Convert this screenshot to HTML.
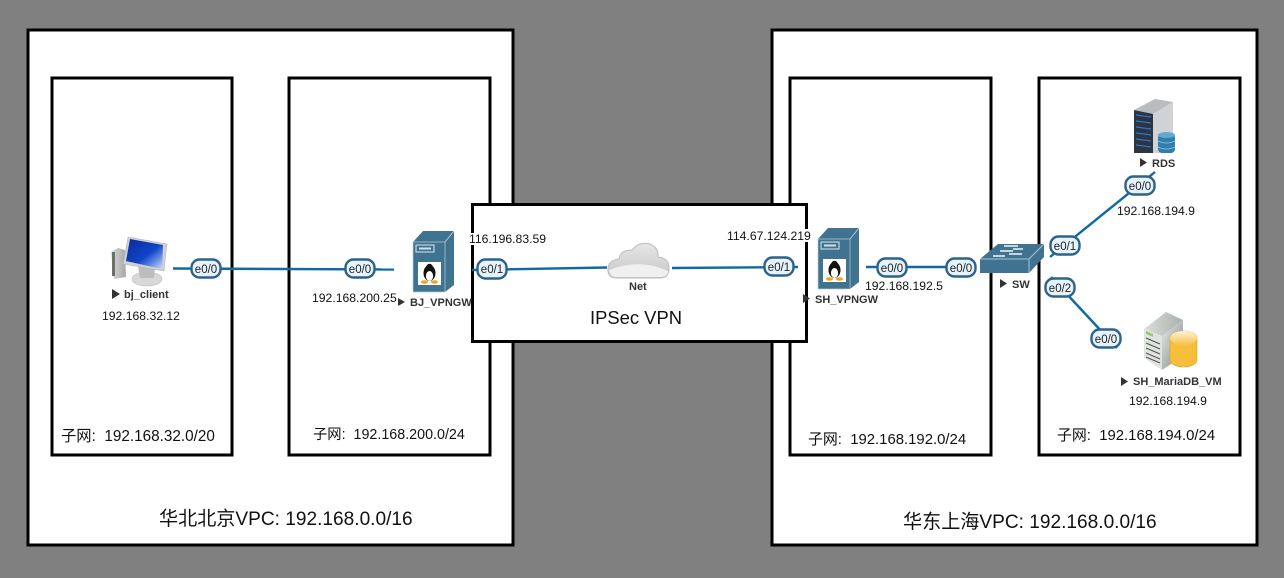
<!DOCTYPE html>
<html><head><meta charset="utf-8">
<style>
html,body{margin:0;padding:0;background:#808080;width:1284px;height:578px;overflow:hidden}
svg{display:block}
text{font-family:"Liberation Sans","Noto Sans CJK SC",sans-serif;fill:#111}
.ip{font-size:12.2px}
.vpc{font-size:19.1px}
.n{font-size:11px;font-weight:bold;fill:#333}
.p{font-size:11.5px;text-anchor:middle;fill:#222}
.pr{fill:#e6f3fc;stroke:#2e6288;stroke-width:2.4}
.box{fill:#fff;stroke:#000;stroke-width:3}
.l{stroke:#0f69a6;stroke-width:2.4;fill:none}
</style></head><body>
<svg width="1284" height="578" viewBox="0 0 1284 578" xmlns="http://www.w3.org/2000/svg">
<defs>
<linearGradient id="cl" x1="0" y1="0" x2="0" y2="1"><stop offset="0" stop-color="#e6e6e6"/><stop offset=".65" stop-color="#d2d2d2"/><stop offset="1" stop-color="#c4c4c4"/></linearGradient>
<linearGradient id="gs" x1="0" y1="0" x2="1" y2="1"><stop offset="0" stop-color="#e6e8e6"/><stop offset="1" stop-color="#7f8a85"/></linearGradient>
<linearGradient id="gt" x1="0" y1="0" x2="1" y2="0"><stop offset="0" stop-color="#dcdedc"/><stop offset="1" stop-color="#a9b0ac"/></linearGradient>
<linearGradient id="gm" x1="0" y1="0" x2="1" y2="0"><stop offset="0" stop-color="#d8d8d8"/><stop offset="1" stop-color="#a8a8a8"/></linearGradient>
<linearGradient id="bl" x1="0" y1="0" x2="1" y2="1"><stop offset="0" stop-color="#0a2a9c"/><stop offset=".55" stop-color="#1144c8"/><stop offset=".75" stop-color="#5c86e0"/><stop offset="1" stop-color="#d4e2fa"/></linearGradient>
<linearGradient id="yl" x1="0" y1="0" x2="0" y2="1"><stop offset="0" stop-color="#fdf3d6"/><stop offset="1" stop-color="#f7c24a"/></linearGradient>
<g id="srv">
<polygon points="0,11 10,0 41,0 32,11" fill="#3f7390"/>
<polygon points="32,11 41,0 41,54 32,61" fill="#3f7390"/>
<line x1="32" y1="11" x2="41" y2="0" stroke="#cfdfe8" stroke-width=".7"/>
<rect x="0" y="11" width="32" height="50" fill="#3f7390" stroke="#b9cfdc" stroke-width=".7"/>
<rect x="3" y="14" width="18" height="7" fill="#3f7390" stroke="#dce8ee" stroke-width="1"/>
<rect x="6" y="16.500" width="12" height="2" fill="#cfe0ea"/>
<rect x="5" y="31" width="23" height="23" fill="#fff"/>
<ellipse cx="16.500" cy="42" rx="6" ry="8" fill="#111"/>
<ellipse cx="16.500" cy="45" rx="3.600" ry="5" fill="#fff"/>
<circle cx="16.500" cy="36" r="3.200" fill="#111"/>
<ellipse cx="11.500" cy="51" rx="3.500" ry="1.700" fill="#e8a818"/>
<ellipse cx="21.500" cy="51" rx="3.500" ry="1.700" fill="#e8a818"/>
</g>
</defs>
<rect width="1284" height="578" fill="#808080"/>

<rect class="box" x="28" y="30" width="485" height="515"/>
<rect class="box" x="772" y="30" width="485" height="515"/>
<rect class="box" x="52" y="78" width="180" height="377"/>
<rect class="box" x="289" y="78" width="201" height="377"/>
<rect class="box" x="790" y="78" width="201" height="377"/>
<rect class="box" x="1039" y="78" width="201" height="377"/>
<rect class="box" x="472.500" y="204.500" width="334" height="137"/>

<text font-size="15.300" x="61" y="441">子网:&#160; 192.168.32.0/20</text>
<text font-size="14.300" x="313" y="439">子网:&#160; 192.168.200.0/24</text>
<text font-size="14.900" x="808" y="444">子网:&#160; 192.168.192.0/24</text>
<text font-size="14.900" x="1057" y="440">子网:&#160; 192.168.194.0/24</text>
<text class="vpc" x="159" y="525">华北北京VPC: 192.168.0.0/16</text>
<text class="vpc" x="903" y="528">华东上海VPC: 192.168.0.0/16</text>
<text x="590" y="324" font-size="18.400">IPSec VPN</text>

<!-- connectors -->
<path class="l" d="M173 268.500L394 269.500"/>
<path class="l" d="M472 270L607 267.500"/>
<path class="l" d="M672 268L798 267"/>
<path class="l" d="M866 267L975 267"/>
<path class="l" d="M1050 257L1155 172"/>
<path class="l" d="M1051 277L1117 348"/>

<!-- client PC -->
<g>
<polygon points="111,252 118,248 125,250 126,277 114,279" fill="url(#gm)"/>
<rect x="112" y="252" width="3" height="24" fill="#6a7268"/>
<ellipse cx="147" cy="279" rx="15" ry="7" fill="#d8d8d8" stroke="#c0c0c0" stroke-width=".6"/>
<polygon points="138,266 155,268 154,278 140,278" fill="#bdbdbd"/>
<polygon points="128,237 167,244 164,271 123,264" fill="#d0d0d0" stroke="#b0b0b0" stroke-width=".5"/>
<polygon points="130,239 163,245 162,269 126,261" fill="url(#bl)"/>
</g>
<polygon points="112,289 112,299 120,294" fill="#333"/>
<text class="n" x="124" y="298">bj_client</text>
<text class="ip" x="102" y="320">192.168.32.12</text>

<use href="#srv" x="413" y="231"/>
<text class="ip" x="312" y="302">192.168.200.25</text>
<polygon points="398,298 398,306 405,302" fill="#333"/>
<text class="n" x="410" y="306">BJ_VPNGW</text>

<rect x="469" y="233" width="77" height="12" fill="#fff"/>
<text class="ip" x="469" y="243">116.196.83.59</text>
<rect x="727" y="229" width="84" height="13" fill="#fff"/>
<text class="ip" x="727" y="240">114.67.124.219</text>

<!-- cloud -->
<path d="M616 278Q607 278 608 268Q609 260 619 259Q620 250 632 250Q639 241 650 244Q659 248 658 257Q669 258 669 268Q669 278 660 278Z" fill="url(#cl)" stroke="#bdbdbd"/>
<path d="M609 270Q640 258 668 271Q668 277 660 277L616 277Q610 277 609 270Z" fill="#f0f0f0"/>
<text class="n" x="629" y="290">Net</text>

<use href="#srv" x="818" y="228"/>
<polygon points="803,294 803,303 810,298.500" fill="#333"/>
<text class="n" x="815" y="303">SH_VPNGW</text>
<text class="ip" x="865" y="290">192.168.192.5</text>

<!-- switch -->
<polygon points="980,259 998,244 1044,244 1029,259" fill="#3f7390"/>
<polygon points="1029,259 1044,244 1044,257 1029,273" fill="#3f7390"/>
<rect x="980" y="259" width="49" height="14" fill="#3f7390"/>
<path d="M980 259H1029L1044 244M1029 259V273" stroke="#a9c4d2" stroke-width="1" fill="none"/>
<path d="M1018 246h-14M1023 249h-10M1000 251h13M1022 254h-13M993 256h12" stroke="#f2f6f8" stroke-width="1.400"/>
<polygon points="1000,279 1000,288 1007,283.500" fill="#333"/>
<text class="n" x="1012" y="288">SW</text>

<!-- RDS -->
<polygon points="1134,110 1155,99 1173,102 1153,114" fill="#b9bbbd"/>
<polygon points="1153,114 1173,102 1173,135 1160,153 1153,153" fill="#d0d2d4"/>
<polygon points="1134,110 1153,114 1153,153 1134,153" fill="#2c3542"/>
<path d="M1136 115l15 2M1136 121l15 2M1136 127l15 2M1136 133l15 2M1136 139l15 2M1136 145l15 2" stroke="#2d78d0" stroke-width="1.200"/>
<rect x="1158" y="134" width="17" height="19" rx="4" fill="#2f7eac"/>
<ellipse cx="1166.500" cy="135" rx="8.500" ry="3" fill="#5fa9d2"/>
<path d="M1158 141q8.500 4 17 0M1158 147q8.500 4 17 0" stroke="#9cc8e0" stroke-width=".8" fill="none"/>
<polygon points="1140,158 1140,167 1147,162.500" fill="#333"/>
<text class="n" x="1152" y="167">RDS</text>
<text class="ip" x="1117" y="215">192.168.194.9</text>

<!-- MariaDB -->
<polygon points="1144,329 1166,312 1183,320 1162,336" fill="url(#gt)"/>
<polygon points="1162,336 1183,320 1183,356 1162,370" fill="url(#gs)"/>
<polygon points="1144,329 1162,336 1162,370 1144,358" fill="#dfe4e0"/>
<polygon points="1146,331 1153,334 1153,337 1146,334" fill="#9ccb6a"/>
<path d="M1146 338l14 6M1146 343l14 6M1146 348l14 6M1146 353l14 6M1146 357l14 6" stroke="#555" stroke-width="1.200"/>
<path d="M1170 338a13.500 7 0 0 1 27 0V360a13.500 7 0 0 1 -27 0Z" fill="#f7be3c" stroke="#dba530" stroke-width=".6"/>
<ellipse cx="1183.500" cy="338" rx="13.500" ry="7" fill="url(#yl)"/>
<polygon points="1121,377 1121,386 1128,381.500" fill="#333"/>
<text class="n" x="1133" y="385">SH_MariaDB_VM</text>
<text class="ip" x="1129" y="405">192.168.194.9</text>

<!-- pills -->
<rect class="pr" x="191.500" y="259.500" width="29" height="18" rx="8"/><text class="p" x="206" y="273">e0/0</text>
<rect class="pr" x="345.500" y="259.500" width="29" height="18" rx="8"/><text class="p" x="360" y="273">e0/0</text>
<rect class="pr" x="477.500" y="259.500" width="29" height="19" rx="8"/><text class="p" x="492" y="273">e0/1</text>
<rect class="pr" x="764.500" y="257.500" width="29" height="18" rx="8"/><text class="p" x="779" y="271">e0/1</text>
<rect class="pr" x="877.500" y="258.500" width="29" height="18" rx="8"/><text class="p" x="892" y="272">e0/0</text>
<rect class="pr" x="946.500" y="258.500" width="29" height="18" rx="8"/><text class="p" x="961" y="272">e0/0</text>
<rect class="pr" x="1050.500" y="236.500" width="29" height="18" rx="8"/><text class="p" x="1065" y="250">e0/1</text>
<rect class="pr" x="1125.500" y="176.500" width="29" height="18" rx="8"/><text class="p" x="1140" y="190">e0/0</text>
<rect class="pr" x="1045.500" y="278.500" width="29" height="18" rx="8"/><text class="p" x="1060" y="292">e0/2</text>
<rect class="pr" x="1091.500" y="329.500" width="29" height="18" rx="8"/><text class="p" x="1106" y="343">e0/0</text>
</svg>
</body></html>
